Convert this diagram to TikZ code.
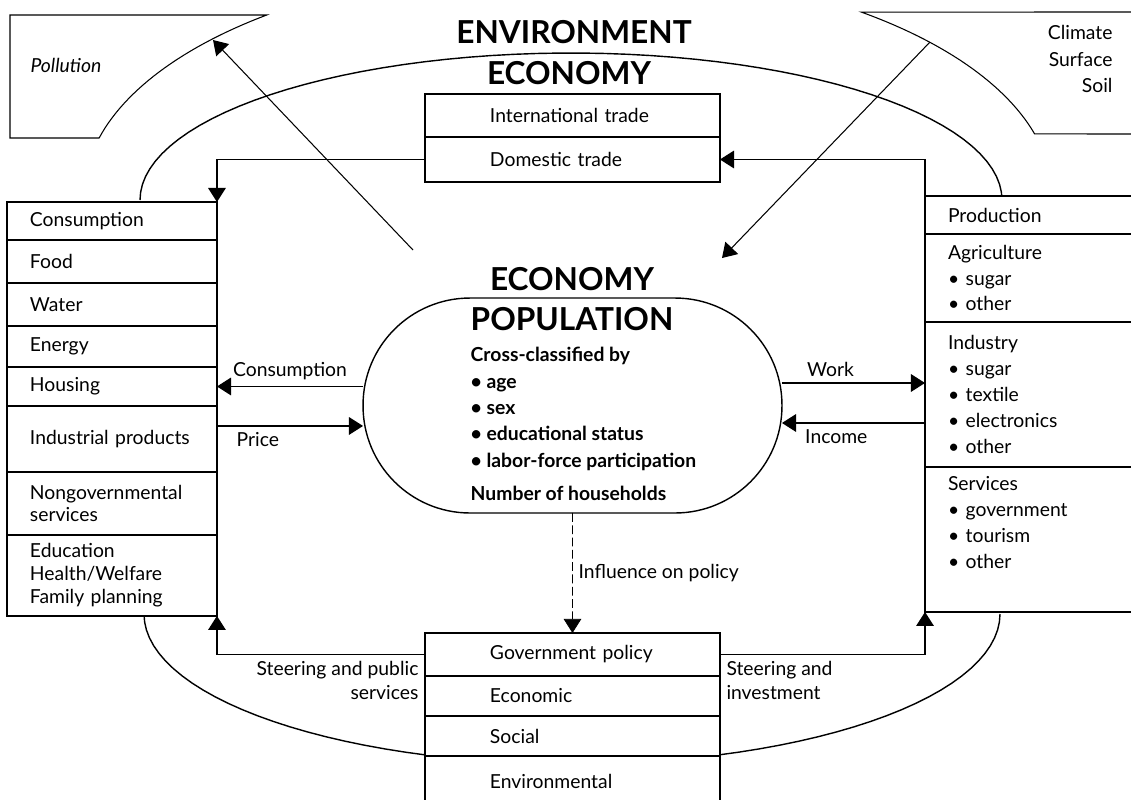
\documentclass[tikz,border=0pt]{standalone}
\usepackage{fontspec}
\setmainfont{Lato}
\usetikzlibrary{positioning,calc,arrows.meta}

\begin{document}
\begin{tikzpicture}[x=0.02cm,y=-0.02cm,thick,font=\fontsize{11}{13}\selectfont,
  arr/.style={-{Triangle[length=8pt,width=10pt]}},
  cell/.style={draw,fill=white,outer sep=0pt,align=left,inner ysep=0pt},
  lcell/.style={cell,inner xsep=0.46cm,text width=3.28cm},
  rcell/.style={cell,inner xsep=0.46cm,text width=3.48cm,font=\fontsize{11}{14.7}\selectfont},
  mcell/.style={cell,inner xsep=1.3cm,text width=3.3cm},
  bigcap/.style={font=\fontsize{18}{21}\selectfont\bfseries}]

% frame of the picture (pixel units)
\useasboundingbox (0,0) rectangle (1131,799);
\clip (0,0) rectangle (1131,799);

% Define coordinates
\coordinate (polin)   at (413,250);
\coordinate (polout)  at (213,40);
\coordinate (climin)  at (930,42);
\coordinate (climout) at (722,258);

% Environment: outer ellipse cut into two boxes
\draw[semithick] (10,15) -- plot[domain=128.5:165.65,samples=30] ({568+484*cos(\x)},{195-230*sin(\x)}) -- (10,138) -- cycle;
\draw[semithick] (1140,134) -- plot[domain=15.4:52.7,samples=30] ({568+484*cos(\x)},{195-230*sin(\x)}) -- (1140,12);
\node[anchor=west,font=\fontsize{11}{13}\selectfont\itshape] (poltxt) at (24,65) {Pollution};
\node[anchor=north east,align=right,font=\fontsize{11}{15}\selectfont] (climtxt) at (1119,19) {Climate\\Surface\\Soil};

% Economy ring
\draw plot[domain=0:180,samples=60] ({571+431*cos(\x)},{200-147*sin(\x)});
\draw plot[domain=180:360,samples=60] ({572+428*cos(\x)},{614-150*sin(\x)});

\node[bigcap] (envlbl) at (574,32) {ENVIRONMENT};
\node[bigcap] (ecolbl) at (569,73) {ECONOMY};

% Trade
\node[mcell,anchor=north west,minimum height=0.86cm] (intl) at (425,94) {International trade};
\node[mcell,below=0pt of intl,minimum height=0.9cm] (dom) {Domestic trade};

% Consumption column
\node[lcell,anchor=north west,minimum height=0.76cm] (cons) at (7,202) {Consumption};
\node[lcell,below=0pt of cons,minimum height=0.86cm] (food) {Food};
\node[lcell,below=0pt of food,minimum height=0.86cm] (water) {Water};
\node[lcell,below=0pt of water,minimum height=0.82cm] (energy) {Energy};
\node[lcell,below=0pt of energy,minimum height=0.78cm] (housing) {Housing};
\node[lcell,below=0pt of housing,minimum height=1.32cm] (indprod) {Industrial products};
\node[lcell,below=0pt of indprod,minimum height=1.26cm] (ngo) {Nongovernmental\\services};
\node[lcell,below=0pt of ngo,minimum height=1.62cm] (edu) {Education\\Health/Welfare\\Family planning};

% Production column
\node[rcell,anchor=north west,minimum height=0.76cm] (prod) at (925,196) {Production};
\node[rcell,below=0pt of prod,minimum height=1.76cm] (agri) {Agriculture\\• sugar\\• other};
\node[rcell,below=0pt of agri,minimum height=2.9cm] (indus) {Industry\\• sugar\\• textile\\• electronics\\• other};
\node[rcell,below=0pt of indus,minimum height=2.9cm] (serv) {Services\\• government\\• tourism\\• other\\\strut};

% Government
\node[mcell,anchor=north west,minimum height=0.86cm] (gov) at (425,633) {Government policy};
\node[mcell,below=0pt of gov,minimum height=0.8cm] (econ) {Economic};
\node[mcell,below=0pt of econ,minimum height=0.8cm] (social) {Social};
\node[mcell,below=0pt of social,minimum height=1cm] (envir) {Environmental};

% Population
\node[bigcap] (ecolbl2) at (572,279) {ECONOMY};
\node[draw,fill=white,rounded corners=2.14cm,minimum width=8.38cm,minimum height=4.3cm,outer sep=0pt] (pop) at (572.5,405.5) {};
\node[anchor=west,align=left,inner sep=0pt,font=\fontsize{11}{15}\selectfont\bfseries] (poptxt) at (470,404)
  {{\fontsize{18}{21}\selectfont POPULATION}\\[3pt]
   Cross-classified by\\ • age\\ • sex\\ • educational status\\ • labor-force participation\\[4pt]
   Number of households};

% Flows
\coordinate (wk)  at ($(agri.south west)+(0,61)$);
\coordinate (inc) at ($(agri.south west)+(0,101)$);
\coordinate (pr)  at ($(housing.south east)+(0,20)$);

\draw[arr] (dom.west) -| (cons.north east);
\draw[arr] (prod.north west) |- (dom.east);
\draw[arr] (pop.west |- housing.east) -- (housing.east) node[midway,above] (conslbl) {Consumption};
\draw[arr] (pr) -- (pr -| pop.west) node[pos=0.28,below] (pricelbl) {Price};
\draw[arr] (pop.east |- wk) -- (wk) node[pos=0.34,above] (worklbl) {Work};
\draw[arr] (inc) -- (inc -| pop.east) node[pos=0.62,below] (inclbl) {Income};
\draw[arr,thin,dash pattern=on 5pt off 2pt] (pop.south) -- (gov.north) node[midway,right] (inflbl) {Influence on policy};
\draw[arr] (gov.west) -| (edu.south east);
\draw[arr] (gov.east) -| (serv.south west);
\node[anchor=north east,align=right,font=\fontsize{11}{14}\selectfont] (steerpub) at (gov.west) {Steering and public\\services};
\node[anchor=north west,align=left,font=\fontsize{11}{14}\selectfont] (steerinv) at (gov.east) {Steering and\\investment};

% Environment links
\draw[arr,semithick] (polin) -- (polout);
\draw[arr,semithick] (climin) -- (climout);

\end{tikzpicture}
\end{document}
